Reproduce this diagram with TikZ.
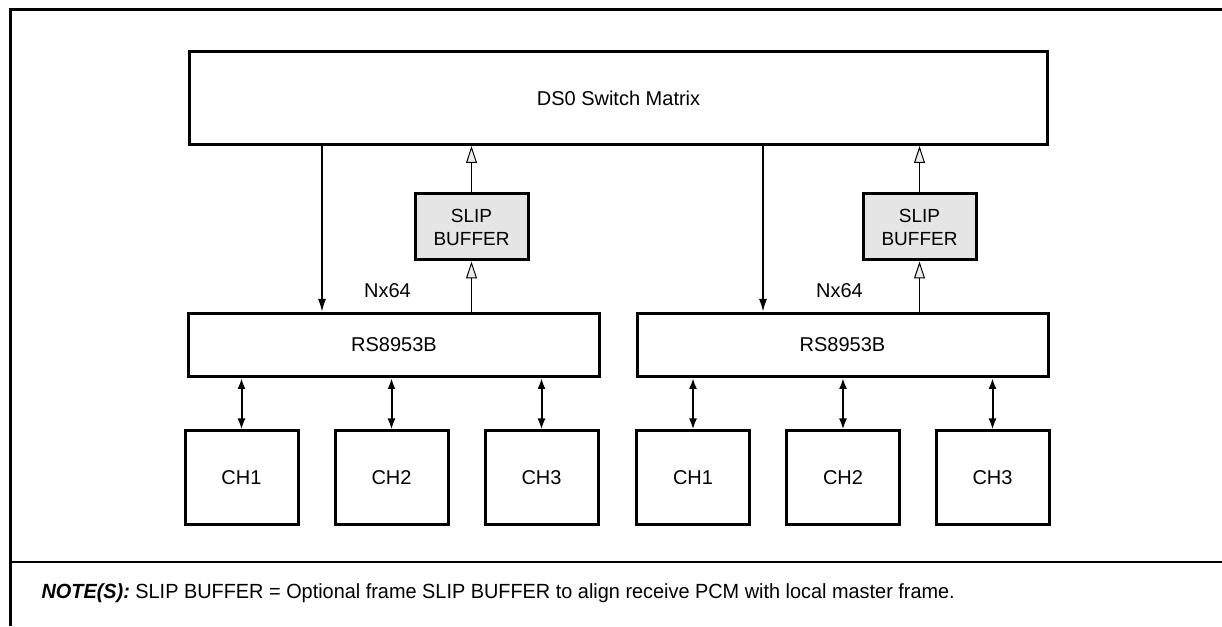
\documentclass[tikz,border=0pt]{standalone}
\usepackage{fontspec}
\setmainfont{Liberation Sans}
\newfontfamily\notefont[FakeStretch=0.97]{Liberation Sans}
\usetikzlibrary{arrows.meta}

\tikzset{
	blk/.style={shape=rectangle, draw=black, line width=3pt, inner sep=0pt, font=\fontsize{20}{24}\selectfont},
	chbox/.style={blk, minimum width=113pt, minimum height=94pt},
	slipbox/.style={blk, fill=gray!20, minimum width=113pt, minimum height=66pt, align=center, font=\fontsize{19}{23}\selectfont},
	down/.style={-{Latex[length=13pt,width=8pt]}, line width=2pt},
	both/.style={{Latex[length=11pt,width=8pt]}-{Latex[length=11pt,width=8pt]}, line width=2pt},
	up/.style={-{Triangle[open,fill=gray!15,length=17pt,width=11pt,line width=1pt]}, line width=1.8pt},
}

\begin{document}
\begin{tikzpicture}[x=1pt,y=1pt]
	
	\useasboundingbox (0,0) rectangle (1222,626);
	\draw[line width=3pt] (1222,616) -- (10,616) -- (10,0);
	\draw[line width=2.6pt] (10,64) -- (1222,64);
	
	\node[blk, minimum width=858pt, minimum height=93pt] (ds0) at (618.5, 528) {DS0 Switch Matrix};
	\node[blk, minimum width=411pt, minimum height=63pt] (rsa) at (394, 281) {RS8953B};
	\node[blk, minimum width=411pt, minimum height=63pt] (rsb) at (842.5, 281) {RS8953B};
	\node[slipbox] (slipa) at (471.5, 399) {SLIP\\BUFFER};
	\node[slipbox] (slipb) at (919.5, 399) {SLIP\\BUFFER};
	
	\node[chbox] (cha1) at (241.5, 148) {CH1};
	\node[chbox] (cha2) at (391.5, 148) {CH2};
	\node[chbox] (cha3) at (541.5, 148) {CH3};
	\node[chbox] (chb1) at (693, 148) {CH1};
	\node[chbox] (chb2) at (843, 148) {CH2};
	\node[chbox] (chb3) at (992.5, 148) {CH3};
	
	\node[font=\fontsize{20}{24}\selectfont] (nxa) at (387.5, 335) {Nx64};
	\node[font=\fontsize{20}{24}\selectfont] (nxb) at (839.5, 335) {Nx64};
	
	\coordinate (dna) at (322, 0);
	\coordinate (dnb) at (763, 0);
	
	\path[down] (ds0.south -| dna) edge (rsa.north -| dna);
	\path[down] (ds0.south -| dnb) edge (rsb.north -| dnb);
	\path[up] (rsa.north -| slipa) edge (slipa.south);
	\path[up] (slipa.north) edge (ds0.south -| slipa);
	\path[up] (rsb.north -| slipb) edge (slipb.south);
	\path[up, line width=0.9pt, double, double distance=1.5pt] (slipb.north) edge (ds0.south -| slipb);
	
	\foreach \c in {cha1,cha2,cha3} \path[both] (rsa.south -| \c) edge (\c.north);
	\foreach \c in {chb1,chb2,chb3} \path[both] (rsb.south -| \c) edge (\c.north);
	
	\node[anchor=west, font=\notefont\fontsize{20.5}{24}\selectfont] (note) at (38, 33) {\textbf{\textit{NOTE(S):}} SLIP BUFFER = Optional frame SLIP BUFFER to align receive PCM with local master frame.};
	
\end{tikzpicture}
\end{document}
